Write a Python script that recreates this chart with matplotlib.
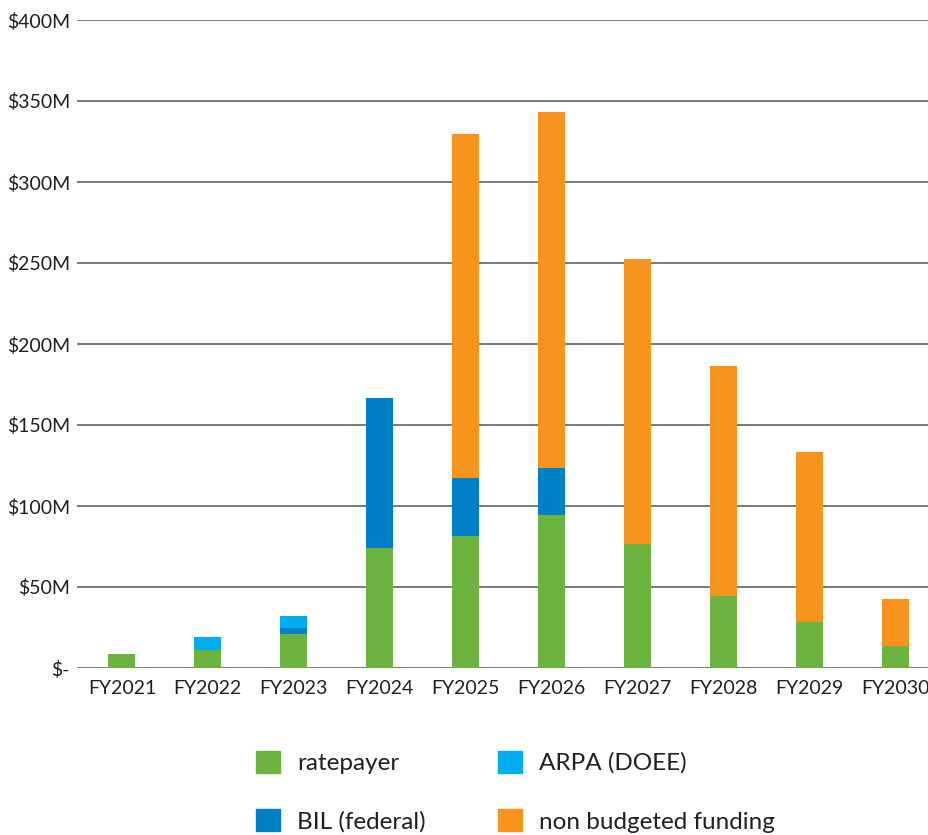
import numpy as np
import matplotlib
matplotlib.use("Agg")
from matplotlib import pyplot as plt
from matplotlib.patches import Patch

years = ["FY2021", "FY2022", "FY2023", "FY2024", "FY2025",
         "FY2026", "FY2027", "FY2028", "FY2029", "FY2030"]
ratepayer = [8.6, 11.1, 21.0, 74.0, 81.5, 94.4, 76.5, 44.6, 28.4, 13.6]
bil = [0, 0, 3.7, 92.7, 35.8, 29.1, 0, 0, 0, 0]
arpa = [0, 8.0, 7.4, 0, 0, 0, 0, 0, 0, 0]
non_budgeted = [0, 0, 0, 0, 212.3, 219.7, 176.0, 141.8, 104.9, 29.0]
yticks = [0, 50, 100, 150, 200, 250, 300, 350, 400]
ytick_labels = ["$-", "$50M", "$100M", "$150M", "$200M",
                "$250M", "$300M", "$350M", "$400M"]

green = "#6db33f"
blue = "#0080c6"
lightblue = "#00aeef"
orange = "#f7941d"
txt = "#231f20"

plt.rcParams['font.family'] = ['Lato', 'DejaVu Sans']

fig = plt.figure(figsize=(9.29, 8.35), dpi=100)
ax = fig.add_axes([77 / 929, 0.2, 1 - 77 / 929, 1 - 0.2 - 20 / 835])

x = np.arange(len(years))
w = 0.315
b1 = np.array(ratepayer)
b2 = b1 + np.array(bil)
b3 = b2 + np.array(arpa)
ax.bar(x, ratepayer, w, color=green, zorder=3)
ax.bar(x, bil, w, bottom=b1, color=blue, zorder=3)
ax.bar(x, arpa, w, bottom=b2, color=lightblue, zorder=3)
ax.bar(x, non_budgeted, w, bottom=b3, color=orange, zorder=3)

ax.set_xlim(-0.523, 9.395)
ax.set_ylim(0, 400)
ax.set_yticks(yticks)
ax.set_yticklabels(ytick_labels)
ax.set_xticks(x)
ax.set_xticklabels(years)
ax.tick_params(axis='both', length=0, labelsize=14, colors=txt)
ax.tick_params(axis='y', pad=5)
ax.tick_params(axis='x', pad=9)
for s in ax.spines.values():
    s.set_visible(False)
ax.yaxis.grid(True, color="#555555", linewidth=1.1, zorder=0)
ax.set_axisbelow(True)

handles = [Patch(color=green, label="ratepayer"),
           Patch(color=blue, label="BIL (federal)"),
           Patch(color=lightblue, label="ARPA (DOEE)"),
           Patch(color=orange, label="non budgeted funding")]
fig.legend(handles=handles, ncol=2, loc="upper left",
           bbox_to_anchor=(234 / 929, 1 - 729 / 835), frameon=False,
           fontsize=17.5, handlelength=1.0, handleheight=1.0,
           handletextpad=0.7, labelspacing=1.45, columnspacing=2.95,
           labelcolor=txt)

fig.savefig("out.png", dpi=100)
